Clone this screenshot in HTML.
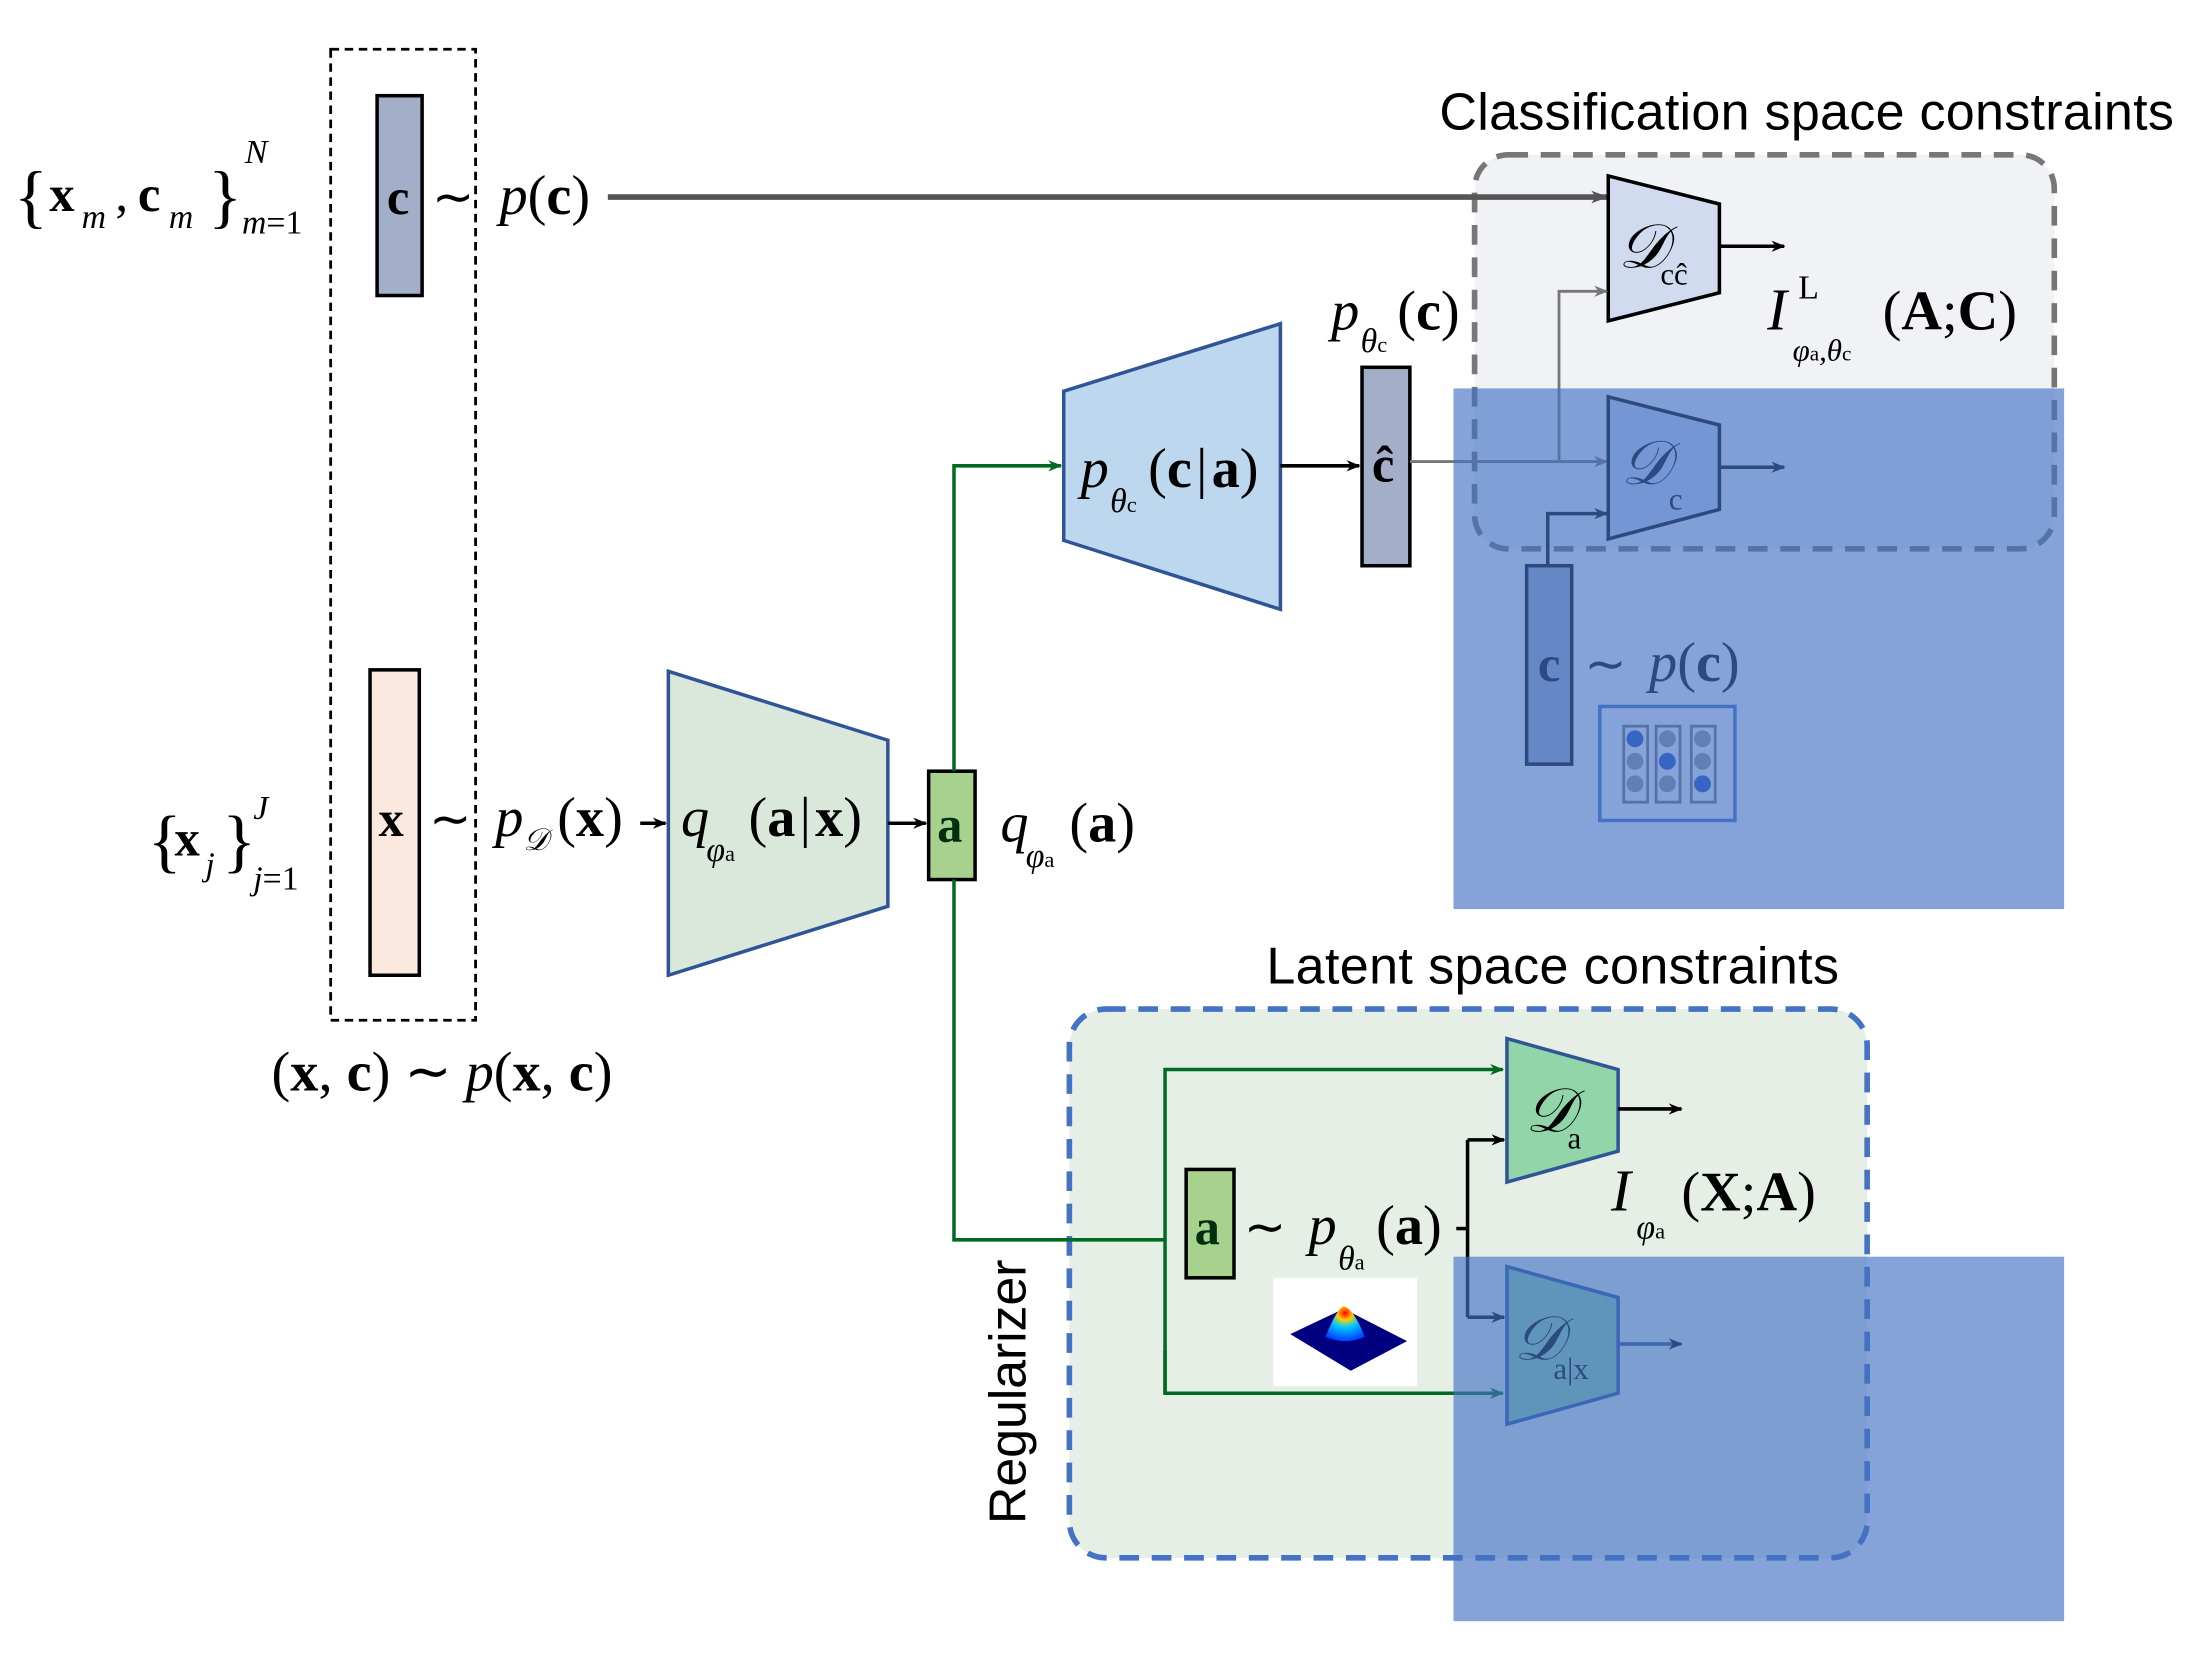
<!DOCTYPE html>
<html><head><meta charset="utf-8"><style>
html,body{margin:0;padding:0;background:#fff}
svg{display:block}
text{font-family:"Liberation Serif",serif}
.s{font-family:"Liberation Sans",sans-serif}
.i{font-style:italic}
.b{font-weight:bold}
</style></head><body>
<svg width="2195" height="1662" viewBox="0 0 1560 1181" preserveAspectRatio="none" xmlns="http://www.w3.org/2000/svg">
<defs>
<marker id="ak" markerWidth="10" markerHeight="8" refX="9" refY="4" orient="auto" markerUnits="userSpaceOnUse"><path d="M0,0 L10,4 L0,8 L3,4z" fill="#000"/></marker>
<marker id="ag" markerWidth="12" markerHeight="9" refX="11" refY="4.5" orient="auto" markerUnits="userSpaceOnUse"><path d="M0,0 L12,4.5 L0,9 L3,4.5z" fill="#555"/></marker>
<marker id="ag2" markerWidth="10" markerHeight="8" refX="9" refY="4" orient="auto" markerUnits="userSpaceOnUse"><path d="M0,0 L10,4 L0,8 L3,4z" fill="#777"/></marker>
<marker id="agr" markerWidth="10" markerHeight="8" refX="9" refY="4" orient="auto" markerUnits="userSpaceOnUse"><path d="M0,0 L10,4 L0,8 L3,4z" fill="#006b20"/></marker>
</defs>

<rect x="235" y="35" width="103" height="690" fill="none" stroke="#000" stroke-width="2" stroke-dasharray="6,4"/>
<rect x="268" y="68" width="32" height="142" fill="#a3aec8" stroke="#000" stroke-width="2.5"/>
<rect x="263" y="476" width="35" height="217" fill="#fbe9df" stroke="#000" stroke-width="2.5"/>
<text x="275" y="152" font-size="36" class="b">c</text>
<text x="307" y="152" font-size="36">∼</text>
<text x="355" y="152" font-size="40"><tspan class="i">p</tspan>(<tspan class="b">c</tspan>)</text>
<text x="269" y="594" font-size="36" class="b">x</text>
<text x="305" y="594" font-size="36">∼</text>
<text x="352" y="594" font-size="40" class="i">p</text>
<text x="372" y="604" font-size="22" class="i">𝒟</text>
<text x="396" y="594" font-size="40">(<tspan class="b">x</tspan>)</text>
<text x="10" y="156" font-size="50">{</text>
<text x="35" y="150" font-size="36" class="b">x</text><text x="58" y="162" font-size="24" class="i">m</text>
<text x="82" y="150" font-size="36">,</text><text x="98" y="150" font-size="36" class="b">c</text><text x="120" y="162" font-size="24" class="i">m</text>
<text x="148" y="156" font-size="50">}</text>
<text x="174" y="116" font-size="24" class="i">N</text>
<text x="172" y="166" font-size="24" class="i">m<tspan font-style="normal">=1</tspan></text>
<text x="105" y="614" font-size="50">{</text>
<text x="124" y="608" font-size="36" class="b">x</text><text x="146" y="622" font-size="24" class="i">j</text>
<text x="158" y="614" font-size="50">}</text>
<text x="180" y="582" font-size="24" class="i">J</text>
<text x="180" y="632" font-size="24" class="i">j<tspan font-style="normal">=1</tspan></text>
<text x="193" y="775" font-size="40">(<tspan class="b">x</tspan>, <tspan class="b">c</tspan>) ∼ <tspan class="i">p</tspan>(<tspan class="b">x</tspan>, <tspan class="b">c</tspan>)</text>

<rect x="1048" y="110" width="412" height="280" rx="24" fill="#f1f2f6" stroke="#777" stroke-width="4" stroke-dasharray="14,9"/>
<text x="1023" y="92" font-size="37" class="s" textLength="522">Classification space constraints</text>

<line x1="432" y1="140" x2="1142" y2="140" stroke="#555" stroke-width="4" marker-end="url(#ag)"/>

<polygon points="1143,125 1222,145 1222,208 1143,228" fill="#d0dbef" stroke="#000" stroke-width="2.5"/>
<text x="1150" y="190" font-size="44" class="i">𝒟</text><text x="1180" y="202" font-size="22">cĉ</text>
<line x1="1222" y1="175" x2="1268" y2="175" stroke="#000" stroke-width="2.5" marker-end="url(#ak)"/>
<text x="1256" y="234" font-size="42" class="i">I</text><text x="1278" y="212" font-size="24">L</text>
<text x="1274" y="256" font-size="22" class="i">φ<tspan font-size="15" font-style="normal">a</tspan>,θ<tspan font-size="15" font-style="normal">c</tspan></text>
<text x="1338" y="234" font-size="40">(<tspan class="b">A</tspan>;<tspan class="b">C</tspan>)</text>

<text x="946" y="234" font-size="40" class="i">p</text>
<text x="967" y="250" font-size="24" class="i">θ<tspan font-size="16" font-style="normal">c</tspan></text>
<text x="993" y="234" font-size="40">(<tspan class="b">c</tspan>)</text>

<polygon points="756,278 910,230 910,433 756,384" fill="#bdd7ee" stroke="#2f5597" stroke-width="2.5"/>
<text x="768" y="346" font-size="40" class="i">p</text>
<text x="789" y="364" font-size="24" class="i">θ<tspan font-size="16" font-style="normal">c</tspan></text>
<text x="816" y="346" font-size="40">(<tspan class="b">c</tspan><tspan dx="3">|</tspan><tspan class="b" dx="3">a</tspan>)</text>
<line x1="910" y1="331" x2="966" y2="331" stroke="#000" stroke-width="2.5" marker-end="url(#ak)"/>
<rect x="968" y="261" width="34" height="141" fill="#a3aec8" stroke="#000" stroke-width="2.5"/>
<text x="975" y="342" font-size="36" class="b">ĉ</text>

<polyline points="1002,328 1142,328" fill="none" stroke="#777" stroke-width="2" marker-end="url(#ag2)"/>
<polyline points="1108,328 1108,207 1142,207" fill="none" stroke="#777" stroke-width="2" marker-end="url(#ag2)"/>

<polygon points="1143,282 1222,302 1222,362 1143,383" fill="#d0dbef" stroke="#000" stroke-width="2.5"/>
<text x="1152" y="344" font-size="44" class="i">𝒟</text><text x="1186" y="362" font-size="22">c</text>
<line x1="1222" y1="332" x2="1268" y2="332" stroke="#000" stroke-width="2.5" marker-end="url(#ak)"/>
<polyline points="1100,402 1100,365 1142,365" fill="none" stroke="#000" stroke-width="2.5" marker-end="url(#ak)"/>
<rect x="1085" y="402" width="32" height="141" fill="#a3aec8" stroke="#000" stroke-width="2.5"/>
<text x="1093" y="484" font-size="36" class="b">c</text>
<text x="1126" y="484" font-size="36">∼</text>
<text x="1172" y="484" font-size="40"><tspan class="i">p</tspan>(<tspan class="b">c</tspan>)</text>
<rect x="1137" y="502" width="96" height="81" fill="#fff" stroke="#4472c4" stroke-width="2.5"/>
<g stroke="#777" stroke-width="2" fill="none"><rect x="1154" y="516" width="17" height="54"/><rect x="1177" y="516" width="17" height="54"/><rect x="1202" y="516" width="17" height="54"/></g>
<g fill="#999"><circle cx="1162" cy="541" r="6"/><circle cx="1162" cy="557" r="6"/><circle cx="1185" cy="525" r="6"/><circle cx="1185" cy="557" r="6"/><circle cx="1210" cy="525" r="6"/><circle cx="1210" cy="541" r="6"/></g>
<g fill="#1f4fc0"><circle cx="1162" cy="525" r="6"/><circle cx="1185" cy="541" r="6"/><circle cx="1210" cy="557" r="6"/></g>

<polygon points="475,477 631,526 631,644 475,693" fill="#dae8dc" stroke="#2f5597" stroke-width="2.5"/>
<line x1="455" y1="585" x2="473" y2="585" stroke="#000" stroke-width="2.5" marker-end="url(#ak)"/>
<text x="484" y="594" font-size="40" class="i">q</text>
<text x="502" y="612" font-size="24" class="i">φ<tspan font-size="16" font-style="normal">a</tspan></text>
<text x="532" y="594" font-size="40">(<tspan class="b">a</tspan><tspan dx="3">|</tspan><tspan class="b" dx="3">x</tspan>)</text>
<line x1="631" y1="585" x2="658" y2="585" stroke="#000" stroke-width="2.5" marker-end="url(#ak)"/>
<rect x="660" y="548" width="33" height="77" fill="#a9d18e" stroke="#000" stroke-width="2.5"/>
<text x="666" y="598" font-size="36" class="b" fill="#003010">a</text>
<text x="711" y="598" font-size="40" class="i">q</text>
<text x="729" y="616" font-size="24" class="i">φ<tspan font-size="16" font-style="normal">a</tspan></text>
<text x="760" y="598" font-size="40">(<tspan class="b">a</tspan>)</text>
<polyline points="678,548 678,331 754,331" fill="none" stroke="#006b20" stroke-width="2.5" marker-end="url(#agr)"/>

<rect x="760" y="717" width="567" height="390" rx="26" fill="#e5efe5" stroke="#4472c4" stroke-width="4" stroke-dasharray="14,9"/>
<text x="900" y="699" font-size="37" class="s" textLength="407">Latent space constraints</text>
<text x="0" y="0" font-size="37" class="s" textLength="188" transform="translate(729,1083) rotate(-90)">Regularizer</text>

<polyline points="678,625 678,881 828,881" fill="none" stroke="#006b20" stroke-width="2.5"/>
<polyline points="828,990 828,760 1068,760" fill="none" stroke="#006b20" stroke-width="2.5" marker-end="url(#agr)"/>
<polyline points="828,960 828,990 1068,990" fill="none" stroke="#006b20" stroke-width="2.5" marker-end="url(#agr)"/>
<rect x="843" y="831" width="34" height="77" fill="#a9d18e" stroke="#000" stroke-width="2.5"/>
<text x="849" y="884" font-size="36" class="b" fill="#003010">a</text>
<text x="884" y="884" font-size="36">∼</text>
<text x="930" y="884" font-size="40" class="i">p</text>
<text x="951" y="902" font-size="24" class="i">θ<tspan font-size="16" font-style="normal">a</tspan></text>
<text x="978" y="884" font-size="40">(<tspan class="b">a</tspan>)</text>
<line x1="1035" y1="873" x2="1043" y2="873" stroke="#000" stroke-width="2.5"/>
<polyline points="1043,810 1043,936" fill="none" stroke="#000" stroke-width="2.5"/>
<line x1="1043" y1="810" x2="1069" y2="810" stroke="#000" stroke-width="2.5" marker-end="url(#ak)"/>
<line x1="1043" y1="936" x2="1069" y2="936" stroke="#000" stroke-width="2.5" marker-end="url(#ak)"/>

<rect x="905" y="908" width="102" height="77" fill="#fff"/>
<polygon points="917,948 955,930 1000,953 960,974" fill="#000080"/>
<defs><radialGradient id="gg" cx="0.5" cy="0.2" r="0.8"><stop offset="0" stop-color="#f00"/><stop offset="0.25" stop-color="#fc0"/><stop offset="0.5" stop-color="#0cf"/><stop offset="1" stop-color="#0040ff"/></radialGradient></defs>
<path d="M942,950 Q950,930 955,928 Q962,930 970,950 Q956,956 942,950z" fill="url(#gg)"/>

<polygon points="1071,738 1150,760 1150,818 1071,840" fill="#92d5a9" stroke="#2f5597" stroke-width="2.5"/>
<text x="1084" y="804" font-size="44" class="i">𝒟</text><text x="1114" y="816" font-size="22">a</text>
<line x1="1150" y1="788" x2="1195" y2="788" stroke="#000" stroke-width="2.5" marker-end="url(#ak)"/>
<text x="1145" y="860" font-size="42" class="i">I</text>
<text x="1163" y="880" font-size="24" class="i">φ<tspan font-size="16" font-style="normal">a</tspan></text>
<text x="1195" y="860" font-size="40">(<tspan class="b">X</tspan>;<tspan class="b">A</tspan>)</text>

<polygon points="1071,900 1150,922 1150,990 1071,1012" fill="#92d5a9" stroke="#2f5597" stroke-width="2.5"/>
<text x="1076" y="966" font-size="44" class="i">𝒟</text><text x="1104" y="980" font-size="22">a|x</text>
<line x1="1150" y1="955" x2="1195" y2="955" stroke="#2f5597" stroke-width="2.5" marker-end="url(#ak)"/>

<rect x="1033" y="276" width="434" height="370" fill="#4472c4" fill-opacity="0.65"/>
<rect x="1033" y="893" width="434" height="259" fill="#4472c4" fill-opacity="0.65"/>
</svg>
</body></html>
